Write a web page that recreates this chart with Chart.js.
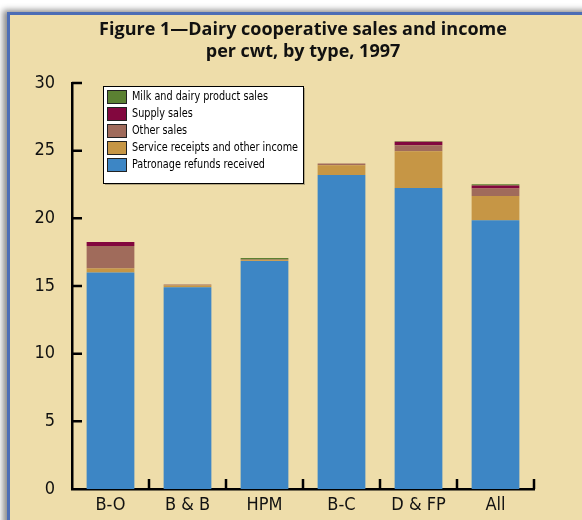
<!DOCTYPE html>
<html>
<head>
<meta charset="utf-8">
<script src="https://cdn.jsdelivr.net/npm/chart.js@4.4.0/dist/chart.umd.min.js"></script>
<style>
  html, body { margin: 0; padding: 0; background: #fff; overflow: hidden; }
  #frame {
    position: absolute; left: 7px; top: 12px; width: 600px; height: 540px;
    background: #EEDDAA;
    border-left: 3px solid #4C6DB5; border-top: 3px solid #4C6DB5;
    box-shadow: -4px -2px 6px rgba(0,0,0,0.45);
  }
  #wrap { position: absolute; left: 0; top: 0; width: 582px; height: 520px; }
</style>
</head>
<body>
<div id="frame"></div>
<div id="wrap"><canvas id="myChart"></canvas></div>
<script>
const categories = ['B-O', 'B & B', 'HPM', 'B-C', 'D & FP', 'All']

// $ per cwt
const patronage = [16.0, 14.9, 16.85, 23.2, 22.25, 19.85]
const service   = [0.3, 0.13, 0.05, 0.73, 2.7, 1.8]
const other     = [1.65, 0.08, 0.06, 0.12, 0.45, 0.56]
const supply    = [0.3, 0, 0, 0, 0.25, 0.22]
const milk      = [0, 0, 0.1, 0, 0.05, 0.08]

const yTicks = [0, 5, 10, 15, 20, 25, 30]

const titleLines = ['Figure 1\u2014Dairy cooperative sales and income', 'per cwt, by type, 1997']

const narrow = "'Liberation Sans Narrow', 'DejaVu Sans Condensed', Roboto, sans-serif"

// axis tick marks pointing into the plot
const tickMarks = {
  id: 'tickMarks',
  afterDraw(chart) {
    const c = chart.ctx
    const x = chart.scales.x, y = chart.scales.y
    const a = chart.chartArea
    c.save()
    c.strokeStyle = '#000'
    c.lineWidth = 2.5
    c.beginPath()
    yTicks.forEach(v => {
      const py = y.getPixelForValue(v)
      if (v === 0) return
      c.moveTo(a.left, py)
      c.lineTo(a.left + 10, py)
    })
    for (let i = 0; i < categories.length; i++) {
      let px
      if (i < categories.length - 1) px = (x.getPixelForValue(i) + x.getPixelForValue(i + 1)) / 2
      else px = a.right
      c.moveTo(px, a.bottom)
      c.lineTo(px, a.bottom - 10)
    }
    c.stroke()
    c.restore()
  }
}

const titleBox = {
  id: 'titleBox',
  afterDraw(chart) {
    const c = chart.ctx
    const a = chart.chartArea
    c.save()
    c.fillStyle = '#111'
    c.font = "bold 18px 'Open Sans', sans-serif"
    c.textAlign = 'center'
    c.textBaseline = 'middle'
    const cx = (a.left + a.right) / 2
    c.fillText(titleLines[0], cx, 30)
    c.fillText(titleLines[1], cx, 52)
    c.restore()
  }
}

// legend in a white box, top entry = top of stack
const legendBox = {
  id: 'legendBox',
  afterDraw(chart) {
    const c = chart.ctx
    const bx = 103, by = 86, bw = 200, bh = 97
    c.save()
    c.fillStyle = 'rgba(0,0,0,0.25)'
    c.fillRect(bx + 2, by + 2, bw, bh)
    c.fillStyle = '#fff'
    c.fillRect(bx, by, bw, bh)
    c.strokeStyle = '#000'
    c.lineWidth = 1
    c.strokeRect(bx + 0.5, by + 0.5, bw, bh)
    const sets = chart.data.datasets.slice().reverse()
    c.font = '12px ' + narrow
    c.textBaseline = 'middle'
    // squeeze text sideways so the longest label fits like the condensed original
    let widest = 0
    sets.forEach(ds => { widest = Math.max(widest, c.measureText(ds.label).width) })
    const sx = Math.min(1, 166 / widest)
    sets.forEach((ds, i) => {
      const ry = by + 11 + i * 17
      c.fillStyle = ds.backgroundColor
      c.fillRect(bx + 4, ry - 7, 20, 14)
      c.strokeStyle = '#222'
      c.strokeRect(bx + 4.5, ry - 6.5, 19, 13)
      c.fillStyle = '#000'
      c.save()
      c.translate(bx + 29, ry)
      c.scale(sx, 1)
      c.fillText(ds.label, 0, 0)
      c.restore()
    })
    c.restore()
  }
}

const ctx = document.getElementById('myChart')
new Chart(ctx, {
  type: 'bar',
  data: {
    labels: categories,
    datasets: [
      { label: 'Patronage refunds received', data: patronage, backgroundColor: '#3D86C5' },
      { label: 'Service receipts and other income', data: service, backgroundColor: '#C69645' },
      { label: 'Other sales', data: other, backgroundColor: '#A06B5B' },
      { label: 'Supply sales', data: supply, backgroundColor: '#82073E' },
      { label: 'Milk and dairy product sales', data: milk, backgroundColor: '#5B8132' }
    ]
  },
  options: {
    responsive: true,
    maintainAspectRatio: false,
    animation: false,
    datasets: { bar: { barPercentage: 0.62, categoryPercentage: 1, borderWidth: 0 } },
    layout: { padding: { left: 0, right: 48, top: 83, bottom: 0 } },
    plugins: {
      legend: { display: false },
      title: { display: false },
      tooltip: { enabled: false }
    },
    scales: {
      x: {
        stacked: true,
        grid: { display: false },
        border: { display: true, color: '#000', width: 2.5 },
        ticks: { color: '#111', font: { size: 18, family: narrow }, padding: -2 },
        afterFit(s) { s.height = 31 }
      },
      y: {
        stacked: true,
        min: 0,
        max: 30,
        grid: { display: false },
        border: { display: true, color: '#000', width: 2.5 },
        ticks: { stepSize: 5, color: '#111', font: { size: 18, family: narrow }, padding: 9 },
        afterFit(s) { s.width = 72 }
      }
    }
  },
  plugins: [tickMarks, titleBox, legendBox]
})
</script>
</body>
</html>
